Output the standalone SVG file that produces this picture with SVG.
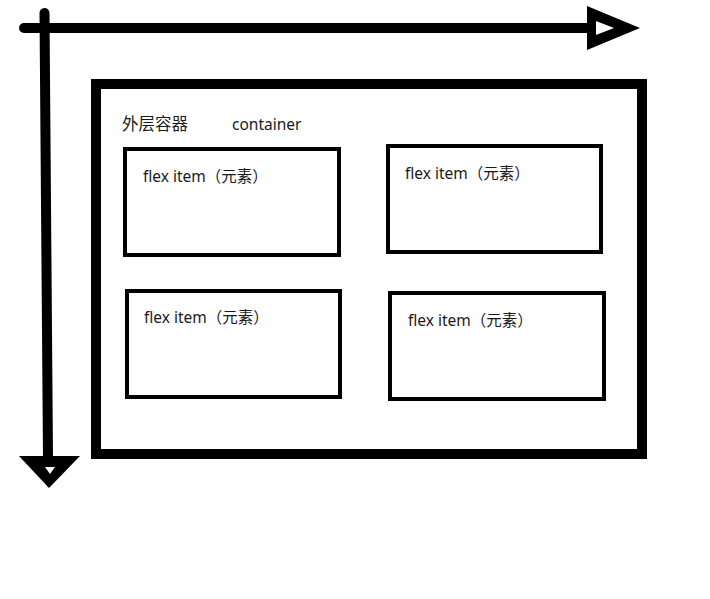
<svg xmlns="http://www.w3.org/2000/svg" width="710" height="599" viewBox="0 0 710 599">
  <style>
    .axis { stroke: #000; stroke-width: 10; stroke-linecap: round; fill: none; }
    .head { fill: #000; fill-rule: evenodd; }
    .box { fill: #fff; stroke: #000; }
    .container { stroke-width: 10; }
    .item { stroke-width: 4; }
    .label { font-family: "Noto Sans", "Noto Sans CJK SC", sans-serif; font-size: 15.5px; fill: #1a1a1a; }
    .title { font-size: 16.5px; }
  </style>
  <rect width="710" height="599" fill="#fff"/>

  <!-- main axis (horizontal) and cross axis (vertical) -->
  <g id="connectors">
    <path class="axis" d="M24 28 L590 28"/>
    <path class="head" d="M587 6 L640 28 L587 50 Z M596 21 L596 35 L614 28 Z"/>
    <path class="axis" d="M44.5 13 L48 457"/>
    <path class="head" d="M19 456 L80 456 L49 488 Z M45 467 L50 474 L55 467 Z"/>
  </g>

  <g id="container">
    <rect class="box container" x="96" y="84" width="546" height="370"/>
    <text class="label title" x="122" y="130">外层容器</text>
    <text class="label" x="232" y="130">container</text>
  </g>

  <g id="item1">
    <rect class="box item" x="125" y="149" width="214" height="106"/>
    <text class="label" x="143" y="182">flex item（元素）</text>
  </g>
  <g id="item2">
    <rect class="box item" x="388" y="146" width="213" height="106"/>
    <text class="label" x="405" y="179">flex item（元素）</text>
  </g>
  <g id="item3">
    <rect class="box item" x="127" y="291" width="213" height="106"/>
    <text class="label" x="144" y="323">flex item（元素）</text>
  </g>
  <g id="item4">
    <rect class="box item" x="390" y="293" width="214" height="106"/>
    <text class="label" x="408" y="326">flex item（元素）</text>
  </g>
</svg>
